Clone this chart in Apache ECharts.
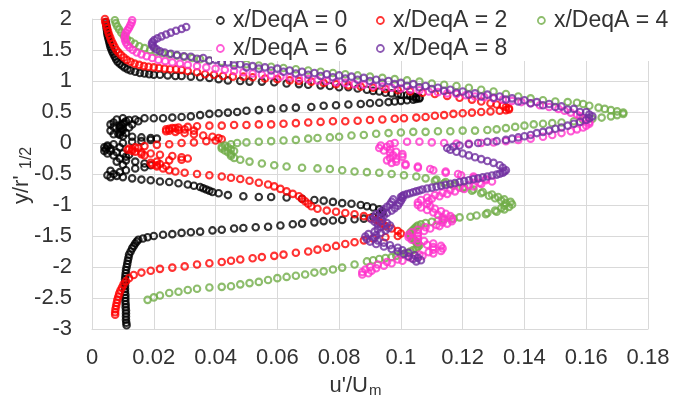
<!DOCTYPE html>
<html>
<head>
<meta charset="utf-8">
<script src="https://cdn.jsdelivr.net/npm/echarts@6/dist/echarts.min.js"></script>
<style>
html, body { margin: 0; padding: 0; background: #fff; }
#main { width: 677px; height: 396px; }
</style>
</head>
<body>
<div id="main"></div>
<script>
var FONT = "'Liberation Sans', Arial, sans-serif";

var seriesNames = ['x/DeqA = 0', 'x/DeqA = 2', 'x/DeqA = 4', 'x/DeqA = 6', 'x/DeqA = 8'];
var seriesColors = ['#000000', '#FF0000', '#70AD47', '#FF33CC', '#7030A0'];

// [u'/Um, y/r'1/2], top to bottom
var prof0 = [
	[0.0045,1.95],[0.0046,1.91],[0.0047,1.87],[0.0048,1.83],[0.0049,1.79],[0.005,1.75],[0.0052,1.71],[0.0054,1.67],[0.0056,1.63],[0.0058,1.59],
	[0.006,1.55],[0.0063,1.51],[0.0066,1.47],[0.007,1.43],[0.0074,1.39],[0.0078,1.35],[0.0083,1.31],[0.009,1.28],[0.0097,1.25],[0.0105,1.22],
	[0.0115,1.19],[0.0125,1.17],[0.014,1.15],[0.0155,1.13],[0.017,1.12],[0.0185,1.11],[0.02,1.1],[0.022,1.1],[0.0245,1.09],[0.027,1.08],
	[0.029,1.08],[0.032,1.07],[0.035,1.06],[0.038,1.05],[0.041,1.03],[0.044,1.01],[0.048,1.0],[0.051,0.99],[0.055,0.99],[0.059,0.98],
	[0.063,0.96],[0.067,0.95],[0.07,0.94],[0.074,0.93],[0.077,0.92],[0.08,0.9],[0.083,0.9],[0.086,0.88],[0.089,0.86],[0.091,0.84],
	[0.093,0.83],[0.095,0.81],[0.097,0.8],[0.099,0.79],[0.1,0.78],[0.102,0.77],[0.103,0.76],[0.104,0.75],[0.105,0.74],[0.106,0.73],
	[0.106,0.72],[0.105,0.71],[0.104,0.7],[0.102,0.69],[0.1,0.68],[0.098,0.67],[0.096,0.66],[0.093,0.65],[0.09,0.64],[0.087,0.63],
	[0.083,0.62],[0.079,0.61],[0.075,0.6],[0.071,0.58],[0.066,0.57],[0.062,0.56],[0.058,0.55],[0.054,0.53],[0.05,0.52],[0.047,0.5],
	[0.044,0.49],[0.041,0.48],[0.038,0.47],[0.035,0.45],[0.032,0.43],[0.029,0.42],[0.026,0.41],[0.023,0.4],[0.02,0.4],[0.017,0.4],
	[0.014,0.38],[0.012,0.37],[0.01,0.4],[0.008,0.38],[0.015,0.35],[0.011,0.35],[0.0105,0.33],[0.007,0.33],[0.013,0.3],[0.01,0.31],
	[0.006,0.3],[0.0095,0.29],[0.009,0.27],[0.007,0.26],[0.012,0.25],[0.009,0.25],[0.0095,0.23],[0.01,0.21],[0.006,0.2],[0.0095,0.19],
	[0.009,0.17],[0.011,0.16],[0.0085,0.15],[0.007,0.14],[0.009,0.13],[0.01,0.11],[0.013,0.1],[0.016,0.09],[0.019,0.08],[0.021,0.07],
	[0.019,0.05],[0.016,0.03],[0.013,0.02],[0.01,0.0],[0.007,-0.02],[0.005,-0.04],[0.005,-0.06],[0.004,-0.07],[0.009,-0.07],[0.006,-0.09],
	[0.0045,-0.1],[0.006,-0.13],[0.004,-0.13],[0.008,-0.15],[0.005,-0.17],[0.01,-0.17],[0.012,-0.19],[0.007,-0.2],[0.011,-0.22],[0.009,-0.25],
	[0.011,-0.28],[0.008,-0.3],[0.014,-0.3],[0.017,-0.33],[0.01,-0.35],[0.019,-0.36],[0.017,-0.39],[0.014,-0.41],[0.011,-0.44],[0.006,-0.45],
	[0.009,-0.47],[0.007,-0.5],[0.005,-0.52],[0.008,-0.53],[0.006,-0.55],[0.01,-0.55],[0.013,-0.57],[0.016,-0.59],[0.019,-0.6],[0.022,-0.62],
	[0.025,-0.63],[0.028,-0.65],[0.031,-0.67],[0.033,-0.69],[0.035,-0.71],[0.036,-0.73],[0.037,-0.75],[0.038,-0.77],[0.039,-0.79],[0.041,-0.81],
	[0.044,-0.84],[0.049,-0.86],[0.054,-0.87],[0.058,-0.87],[0.063,-0.88],[0.068,-0.9],[0.072,-0.92],[0.075,-0.93],[0.078,-0.95],[0.081,-0.97],
	[0.084,-0.98],[0.087,-1.0],[0.089,-1.02],[0.091,-1.04],[0.093,-1.07],[0.094,-1.1],[0.094,-1.13],[0.093,-1.16],[0.091,-1.19],[0.088,-1.22],
	[0.085,-1.23],[0.081,-1.24],[0.078,-1.25],[0.075,-1.26],[0.072,-1.28],[0.068,-1.3],[0.065,-1.31],[0.061,-1.33],[0.057,-1.35],[0.053,-1.36],
	[0.049,-1.37],[0.046,-1.38],[0.042,-1.4],[0.039,-1.41],[0.035,-1.43],[0.032,-1.44],[0.029,-1.45],[0.026,-1.47],[0.023,-1.48],[0.02,-1.5],
	[0.018,-1.52],[0.0165,-1.54],[0.015,-1.56],[0.0145,-1.59],[0.014,-1.62],[0.0135,-1.66],[0.013,-1.7],[0.0125,-1.75],[0.012,-1.8],[0.0118,-1.85],
	[0.0116,-1.9],[0.0114,-1.95],[0.0112,-2.0],[0.011,-2.05],[0.0109,-2.1],[0.0108,-2.15],[0.0107,-2.2],[0.0107,-2.25],[0.0107,-2.3],[0.0107,-2.35],
	[0.0107,-2.4],[0.0108,-2.45],[0.0108,-2.5],[0.0108,-2.55],[0.0109,-2.6],[0.0109,-2.65],[0.011,-2.7],[0.011,-2.75],[0.011,-2.8],[0.011,-2.85],
	[0.0111,-2.9],[0.0112,-2.94]
];

var prof2 = [
	[0.0042,2.0],[0.0043,1.95],[0.0046,1.9],[0.0049,1.85],[0.0052,1.8],[0.0055,1.75],[0.0059,1.7],[0.0063,1.65],[0.0068,1.6],[0.0073,1.55],
	[0.0079,1.5],[0.0086,1.46],[0.0094,1.42],[0.0103,1.38],[0.0113,1.34],[0.0125,1.31],[0.0138,1.28],[0.0153,1.26],[0.0168,1.24],[0.0183,1.23],
	[0.02,1.22],[0.0217,1.21],[0.0235,1.2],[0.0253,1.19],[0.0272,1.19],[0.029,1.18],[0.031,1.16],[0.034,1.14],[0.0366,1.11],[0.0395,1.1],
	[0.0424,1.08],[0.0456,1.07],[0.049,1.07],[0.052,1.06],[0.056,1.04],[0.06,1.03],[0.064,1.01],[0.067,1.0],[0.071,0.99],[0.075,0.97],
	[0.079,0.95],[0.083,0.93],[0.087,0.91],[0.091,0.89],[0.095,0.87],[0.099,0.85],[0.103,0.83],[0.107,0.81],[0.111,0.79],[0.115,0.76],
	[0.119,0.73],[0.123,0.7],[0.126,0.67],[0.129,0.64],[0.131,0.62],[0.133,0.6],[0.134,0.58],[0.135,0.56],[0.135,0.54],[0.134,0.53],
	[0.132,0.52],[0.129,0.51],[0.126,0.5],[0.123,0.49],[0.12,0.48],[0.117,0.47],[0.114,0.45],[0.111,0.44],[0.108,0.42],[0.105,0.41],
	[0.101,0.4],[0.098,0.39],[0.094,0.38],[0.09,0.37],[0.086,0.36],[0.082,0.35],[0.078,0.35],[0.074,0.34],[0.07,0.33],[0.066,0.32],
	[0.062,0.31],[0.058,0.3],[0.054,0.3],[0.05,0.29],[0.046,0.29],[0.042,0.28],[0.038,0.28],[0.034,0.27],[0.031,0.26],[0.028,0.25],
	[0.027,0.24],[0.026,0.24],[0.025,0.23],[0.03,0.22],[0.024,0.22],[0.028,0.21],[0.033,0.2],[0.025,0.2],[0.024,0.19],[0.027,0.18],
	[0.03,0.16],[0.033,0.14],[0.036,0.12],[0.039,0.1],[0.041,0.08],[0.042,0.06],[0.04,0.04],[0.037,0.03],[0.033,0.01],[0.029,0.0],
	[0.025,-0.02],[0.021,-0.03],[0.017,-0.05],[0.014,-0.07],[0.015,-0.08],[0.012,-0.09],[0.013,-0.1],[0.0115,-0.11],[0.013,-0.13],[0.014,-0.14],
	[0.016,-0.15],[0.019,-0.17],[0.016,-0.18],[0.022,-0.19],[0.017,-0.2],[0.026,-0.21],[0.029,-0.23],[0.031,-0.25],[0.029,-0.27],[0.025,-0.28],
	[0.021,-0.3],[0.019,-0.32],[0.022,-0.34],[0.0195,-0.35],[0.021,-0.36],[0.024,-0.37],[0.021,-0.38],[0.023,-0.41],[0.025,-0.44],[0.027,-0.46],
	[0.03,-0.48],[0.034,-0.5],[0.038,-0.52],[0.042,-0.54],[0.045,-0.56],[0.048,-0.58],[0.051,-0.61],[0.054,-0.64],[0.057,-0.67],[0.059,-0.7],
	[0.061,-0.74],[0.063,-0.78],[0.065,-0.82],[0.067,-0.86],[0.068,-0.9],[0.069,-0.94],[0.07,-0.98],[0.071,-1.02],[0.073,-1.06],[0.076,-1.09],
	[0.079,-1.11],[0.082,-1.13],[0.085,-1.15],[0.088,-1.18],[0.09,-1.21],[0.092,-1.24],[0.093,-1.27],[0.094,-1.3],[0.095,-1.34],[0.097,-1.38],
	[0.099,-1.42],[0.1,-1.46],[0.099,-1.5],[0.095,-1.52],[0.091,-1.54],[0.088,-1.57],[0.085,-1.6],[0.082,-1.63],[0.079,-1.66],[0.076,-1.69],
	[0.073,-1.72],[0.07,-1.75],[0.066,-1.77],[0.062,-1.8],[0.059,-1.82],[0.055,-1.84],[0.052,-1.86],[0.048,-1.88],[0.045,-1.9],[0.042,-1.92],
	[0.038,-1.94],[0.034,-1.96],[0.03,-1.99],[0.026,-2.01],[0.022,-2.03],[0.019,-2.06],[0.016,-2.09],[0.0135,-2.13],[0.012,-2.18],[0.011,-2.23],
	[0.0102,-2.28],[0.0097,-2.33],[0.0092,-2.38],[0.0088,-2.43],[0.0085,-2.48],[0.0082,-2.53],[0.008,-2.58],[0.0078,-2.63],[0.0076,-2.68],[0.0075,-2.73],
	[0.0075,-2.77]
];

var prof4 = [
	[0.0074,1.98],[0.0077,1.93],[0.0082,1.88],[0.0088,1.83],[0.0095,1.78],[0.0103,1.73],[0.0113,1.68],[0.0125,1.64],[0.0138,1.6],[0.0153,1.56],
	[0.017,1.53],[0.0188,1.5],[0.0207,1.47],[0.0228,1.45],[0.025,1.43],[0.0275,1.41],[0.03,1.39],[0.0325,1.37],[0.035,1.35],[0.038,1.33],
	[0.042,1.31],[0.046,1.29],[0.05,1.27],[0.054,1.25],[0.058,1.23],[0.062,1.21],[0.066,1.19],[0.07,1.17],[0.074,1.15],[0.078,1.13],
	[0.082,1.11],[0.086,1.09],[0.09,1.07],[0.094,1.05],[0.098,1.03],[0.102,1.01],[0.106,0.99],[0.11,0.96],[0.114,0.94],[0.118,0.92],
	[0.122,0.89],[0.126,0.86],[0.13,0.83],[0.134,0.79],[0.138,0.75],[0.142,0.72],[0.146,0.69],[0.15,0.67],[0.154,0.66],[0.157,0.65],
	[0.159,0.63],[0.161,0.6],[0.164,0.57],[0.166,0.55],[0.168,0.53],[0.17,0.51],[0.172,0.49],[0.172,0.47],[0.17,0.45],[0.168,0.43],
	[0.165,0.41],[0.162,0.39],[0.159,0.37],[0.156,0.35],[0.152,0.33],[0.149,0.32],[0.146,0.31],[0.143,0.3],[0.14,0.28],[0.137,0.26],
	[0.134,0.24],[0.131,0.22],[0.128,0.21],[0.124,0.2],[0.12,0.2],[0.116,0.19],[0.112,0.19],[0.108,0.18],[0.104,0.18],[0.1,0.17],
	[0.096,0.16],[0.092,0.15],[0.088,0.13],[0.084,0.12],[0.08,0.1],[0.077,0.09],[0.073,0.08],[0.07,0.07],[0.066,0.05],[0.062,0.04],
	[0.058,0.03],[0.054,0.02],[0.05,0.01],[0.047,0.0],[0.045,-0.02],[0.043,-0.04],[0.042,-0.06],[0.044,-0.07],[0.042,-0.09],[0.045,-0.1],
	[0.043,-0.12],[0.046,-0.13],[0.044,-0.15],[0.045,-0.18],[0.045,-0.21],[0.046,-0.24],[0.048,-0.27],[0.051,-0.3],[0.055,-0.33],[0.059,-0.36],
	[0.063,-0.38],[0.068,-0.4],[0.073,-0.41],[0.077,-0.42],[0.081,-0.44],[0.085,-0.46],[0.089,-0.47],[0.093,-0.48],[0.097,-0.5],[0.101,-0.52],
	[0.105,-0.54],[0.108,-0.57],[0.1115,-0.59],[0.111,-0.61],[0.1145,-0.63],[0.114,-0.65],[0.1175,-0.67],[0.117,-0.69],[0.1205,-0.71],[0.12,-0.73],
	[0.1235,-0.75],[0.123,-0.77],[0.1265,-0.79],[0.126,-0.81],[0.1295,-0.83],[0.1285,-0.85],[0.1315,-0.87],[0.1305,-0.89],[0.1335,-0.91],[0.1325,-0.93],
	[0.1355,-0.95],[0.134,-0.97],[0.136,-0.99],[0.1335,-1.01],[0.135,-1.03],[0.1325,-1.05],[0.1335,-1.07],[0.1305,-1.09],[0.131,-1.11],[0.128,-1.13],
	[0.1275,-1.15],[0.1245,-1.17],[0.1225,-1.19],[0.119,-1.2],[0.117,-1.22],[0.114,-1.23],[0.112,-1.25],[0.11,-1.27],[0.108,-1.29],[0.1065,-1.31],
	[0.1055,-1.33],[0.105,-1.35],[0.1045,-1.375],[0.104,-1.4],[0.1035,-1.425],[0.103,-1.45],[0.103,-1.475],[0.103,-1.5],[0.1035,-1.525],[0.104,-1.55],
	[0.1045,-1.575],[0.105,-1.6],[0.1055,-1.625],[0.106,-1.65],[0.1055,-1.675],[0.105,-1.7],[0.104,-1.725],[0.103,-1.75],[0.1015,-1.775],[0.1,-1.8],
	[0.0985,-1.82],[0.097,-1.84],[0.095,-1.855],[0.093,-1.87],[0.091,-1.89],[0.089,-1.91],[0.085,-1.96],[0.081,-2.01],[0.078,-2.04],[0.075,-2.07],
	[0.072,-2.09],[0.069,-2.12],[0.066,-2.14],[0.063,-2.16],[0.06,-2.18],[0.057,-2.21],[0.054,-2.24],[0.051,-2.26],[0.048,-2.28],[0.045,-2.31],
	[0.042,-2.32],[0.038,-2.33],[0.034,-2.35],[0.031,-2.37],[0.028,-2.4],[0.025,-2.42],[0.022,-2.46],[0.02,-2.49],[0.018,-2.53]
];

var prof6 = [
	[0.013,1.98],[0.0128,1.94],[0.0124,1.9],[0.012,1.86],[0.0115,1.82],[0.011,1.78],[0.0107,1.74],[0.0106,1.7],[0.0107,1.66],[0.011,1.62],
	[0.0115,1.58],[0.0122,1.54],[0.0132,1.5],[0.0145,1.46],[0.016,1.43],[0.0177,1.4],[0.0195,1.37],[0.0215,1.34],[0.0237,1.32],[0.026,1.3],
	[0.0285,1.28],[0.031,1.26],[0.034,1.24],[0.037,1.22],[0.04,1.2],[0.043,1.18],[0.046,1.16],[0.049,1.14],[0.052,1.12],[0.055,1.1],
	[0.058,1.09],[0.061,1.07],[0.064,1.06],[0.067,1.04],[0.07,1.03],[0.073,1.01],[0.076,1.0],[0.079,0.98],[0.082,0.97],[0.085,0.95],
	[0.088,0.94],[0.091,0.92],[0.094,0.91],[0.097,0.89],[0.1,0.88],[0.103,0.86],[0.106,0.85],[0.109,0.83],[0.112,0.82],[0.115,0.8],
	[0.118,0.79],[0.121,0.77],[0.124,0.75],[0.127,0.74],[0.13,0.72],[0.133,0.7],[0.136,0.68],[0.139,0.66],[0.142,0.64],[0.145,0.61],
	[0.148,0.58],[0.151,0.55],[0.153,0.52],[0.155,0.49],[0.157,0.46],[0.158,0.43],[0.159,0.4],[0.16,0.37],[0.161,0.34],[0.161,0.31],
	[0.16,0.28],[0.159,0.25],[0.157,0.22],[0.155,0.19],[0.152,0.16],[0.149,0.13],[0.146,0.1],[0.142,0.07],[0.138,0.05],[0.134,0.03],
	[0.13,0.01],[0.126,0.0],[0.122,-0.01],[0.118,-0.01],[0.114,0.0],[0.11,0.01],[0.106,0.02],[0.102,0.02],[0.098,0.0],
	[0.0965,-0.02],[0.0935,-0.04],[0.0955,-0.06],[0.093,-0.08],[0.0965,-0.1],[0.0945,-0.12],[0.0985,-0.14],[0.0965,-0.16],[0.1005,-0.18],[0.0975,-0.2],
	[0.1005,-0.22],[0.0965,-0.24],[0.0985,-0.26],[0.0955,-0.28],[0.0985,-0.3],[0.097,-0.32],[0.1015,-0.34],[0.1015,-0.36],[0.1055,-0.38],[0.1055,-0.4],
	[0.1095,-0.42],[0.1105,-0.44],[0.1145,-0.46],[0.1145,-0.48],[0.1185,-0.5],[0.1195,-0.52],[0.1235,-0.54],[0.1235,-0.56],[0.1275,-0.58],[0.1275,-0.6],
	[0.1295,-0.62],[0.1255,-0.64],[0.126,-0.66],[0.122,-0.68],[0.1235,-0.7],[0.119,-0.72],[0.1205,-0.74],[0.116,-0.76],[0.1175,-0.78],[0.1135,-0.8],
	[0.115,-0.82],[0.111,-0.84],[0.1125,-0.86],[0.1085,-0.88],[0.11,-0.9],[0.1065,-0.92],[0.109,-0.94],[0.1055,-0.96],[0.1085,-0.98],[0.1055,-1.0],
	[0.1095,-1.02],[0.1065,-1.04],[0.111,-1.06],[0.1085,-1.08],[0.113,-1.1],[0.1105,-1.12],[0.1145,-1.14],[0.112,-1.16],[0.116,-1.18],[0.1135,-1.2],
	[0.1165,-1.22],[0.1135,-1.24],[0.1165,-1.26],[0.1135,-1.28],[0.115,-1.3],[0.1115,-1.32],[0.1125,-1.34],[0.108,-1.36],[0.1095,-1.38],[0.1055,-1.4],
	[0.1075,-1.42],[0.1035,-1.44],[0.1055,-1.46],[0.1025,-1.48],[0.1055,-1.5],[0.1025,-1.52],[0.1055,-1.54],[0.1035,-1.56],[0.1075,-1.58],[0.1055,-1.6],
	[0.1105,-1.62],[0.1085,-1.64],[0.113,-1.66],[0.1105,-1.68],[0.1135,-1.7],[0.1105,-1.72],[0.113,-1.74],[0.109,-1.76],[0.1105,-1.78],[0.106,-1.8],
	[0.107,-1.82],[0.1025,-1.84],[0.1035,-1.86],[0.099,-1.88],[0.1005,-1.9],[0.0955,-1.92],[0.097,-1.94],[0.0925,-1.96],[0.0945,-1.98],[0.09,-2.0],
	[0.092,-2.02],[0.0885,-2.04],[0.0905,-2.06],[0.0875,-2.08],[0.0895,-2.1],[0.0875,-2.12]
];

var prof8 = [
	[0.0305,1.87],[0.029,1.84],[0.0272,1.81],[0.0255,1.78],[0.024,1.75],[0.0225,1.72],[0.0212,1.69],[0.0202,1.66],[0.0196,1.63],[0.0194,1.6],
	[0.0196,1.57],[0.0201,1.54],[0.0209,1.51],[0.022,1.48],[0.0235,1.46],[0.0255,1.44],[0.0275,1.42],[0.0297,1.4],[0.032,1.39],[0.034,1.36],
	[0.036,1.37],[0.038,1.33],[0.04,1.34],[0.042,1.29],[0.044,1.3],[0.046,1.25],[0.048,1.27],[0.05,1.22],[0.052,1.24],[0.054,1.2],
	[0.056,1.22],[0.058,1.17],[0.06,1.2],[0.062,1.15],[0.064,1.17],[0.066,1.12],[0.068,1.15],[0.07,1.1],[0.072,1.13],[0.074,1.08],
	[0.076,1.11],[0.078,1.06],[0.08,1.09],[0.082,1.04],[0.084,1.07],[0.086,1.02],[0.088,1.05],[0.09,1.0],[0.092,1.02],[0.094,0.97],
	[0.096,1.0],[0.098,0.95],[0.1,0.97],[0.102,0.92],[0.104,0.95],[0.106,0.9],[0.108,0.92],[0.11,0.87],[0.112,0.89],[0.114,0.84],
	[0.116,0.86],[0.118,0.81],[0.12,0.83],[0.122,0.78],[0.124,0.8],[0.126,0.75],[0.128,0.78],[0.13,0.73],[0.132,0.75],[0.134,0.7],
	[0.136,0.72],[0.138,0.67],[0.14,0.69],[0.142,0.64],[0.144,0.66],[0.146,0.61],[0.148,0.63],[0.15,0.58],[0.152,0.59],[0.154,0.54],
	[0.156,0.55],[0.158,0.5],[0.16,0.5],[0.161,0.46],[0.162,0.43],[0.161,0.4],[0.16,0.37],[0.158,0.34],[0.156,0.31],[0.154,0.28],
	[0.152,0.25],[0.15,0.23],[0.148,0.2],[0.146,0.18],[0.144,0.16],[0.142,0.13],[0.14,0.11],[0.138,0.09],[0.136,0.07],[0.134,0.05],
	[0.131,0.03],[0.128,0.02],[0.125,0.0],[0.122,-0.02],[0.119,-0.04],[0.117,-0.06],[0.115,-0.08],[0.116,-0.11],[0.118,-0.14],[0.12,-0.17],
	[0.122,-0.2],[0.124,-0.23],[0.126,-0.26],[0.128,-0.29],[0.13,-0.32],[0.132,-0.36],[0.133,-0.4],[0.134,-0.44],[0.1335,-0.46],[0.133,-0.48],
	[0.132,-0.495],[0.131,-0.51],[0.1295,-0.525],[0.128,-0.54],[0.1265,-0.555],[0.125,-0.57],[0.1235,-0.585],[0.122,-0.6],[0.1205,-0.615],[0.119,-0.63],
	[0.1175,-0.645],[0.116,-0.66],[0.1145,-0.675],[0.113,-0.69],[0.1115,-0.705],[0.11,-0.72],[0.1085,-0.735],[0.107,-0.75],[0.106,-0.765],[0.105,-0.78],
	[0.104,-0.795],[0.103,-0.81],[0.102,-0.825],[0.101,-0.84],[0.1005,-0.855],[0.1,-0.87],[0.1005,-0.89],[0.0975,-0.91],[0.1,-0.93],[0.097,-0.95],
	[0.0995,-0.97],[0.0965,-0.99],[0.099,-1.01],[0.0955,-1.03],[0.098,-1.05],[0.0945,-1.07],[0.097,-1.09],[0.0935,-1.11],[0.0955,-1.13],[0.092,-1.15],
	[0.0945,-1.17],[0.0915,-1.19],[0.0935,-1.21],[0.0905,-1.23],[0.094,-1.25],[0.0915,-1.27],[0.0955,-1.29],[0.0925,-1.31],[0.0965,-1.33],[0.0935,-1.35],
	[0.096,-1.37],[0.0925,-1.39],[0.095,-1.41],[0.0915,-1.43],[0.0935,-1.45],[0.0895,-1.47],[0.092,-1.49],[0.0885,-1.51],[0.0915,-1.53],[0.089,-1.55],
	[0.0925,-1.57],[0.09,-1.59],[0.0945,-1.61],[0.092,-1.63],[0.0965,-1.65],[0.0945,-1.67],[0.099,-1.69],[0.097,-1.71],[0.1005,-1.73],[0.099,-1.75],
	[0.1025,-1.77],[0.101,-1.79],[0.1045,-1.81],[0.1025,-1.83],[0.1055,-1.85],[0.104,-1.87],[0.1065,-1.89],[0.105,-1.91]
];

var profiles = [prof0, prof2, prof4, prof6, prof8];

// legend item boxes (left, top), two rows like the original
var legendPos = [[216, 9], [376, 9], [537, 9], [216, 37], [376, 37]];

var myChart = echarts.init(document.getElementById('main'));

var option = {
	animation: false,
	textStyle: {fontFamily: FONT},
	grid: {left: 92, right: 29, top: 19, bottom: 67},
	xAxis: {
		type: 'value',
		min: 0,
		max: 0.18,
		interval: 0.02,
		axisLine: {onZero: false, lineStyle: {color: '#d9d9d9'}},
		axisTick: {show: false},
		splitLine: {lineStyle: {color: '#d9d9d9'}},
		axisLabel: {margin: 18, fontSize: 22, color: '#333', fontFamily: FONT}
	},
	yAxis: {
		type: 'value',
		min: -3,
		max: 2,
		interval: 0.5,
		axisLine: {show: true, onZero: false, lineStyle: {color: '#d9d9d9'}},
		axisTick: {show: false},
		splitLine: {lineStyle: {color: '#d9d9d9'}},
		axisLabel: {margin: 20, fontSize: 22, color: '#333', fontFamily: FONT}
	},
	legend: legendPos.map(function (p, i) {
		return {
			data: [seriesNames[i]],
			left: p[0],
			top: p[1],
			padding: 0,
			itemWidth: 15,
			itemHeight: 7,
			icon: 'circle',
			selectedMode: false,
			itemStyle: {color: 'rgba(0,0,0,0)', borderColor: seriesColors[i], borderWidth: 1.8},
			textStyle: {fontSize: 23, color: '#333', fontFamily: FONT}
		};
	}),
	graphic: [
		{type: 'rect', z: 3, shape: {x: 212, y: 0, width: 465, height: 61}, style: {fill: '#fff'}},
		{type: 'text', x: 368, y: 386, style: {text: "u'/U", fontSize: 22, fontFamily: FONT, fill: '#333', align: 'right', verticalAlign: 'middle'}},
		{type: 'text', x: 369, y: 391, style: {text: 'm', fontSize: 15, fontFamily: FONT, fill: '#333', align: 'left', verticalAlign: 'middle'}},
		{type: 'text', x: 22, y: 204, rotation: Math.PI / 2, style: {text: "y/r'", fontSize: 22, fontFamily: FONT, fill: '#333', align: 'left', verticalAlign: 'middle'}},
		{type: 'text', x: 27, y: 169, rotation: Math.PI / 2, style: {text: '1/2', fontSize: 16, fontFamily: FONT, fill: '#333', align: 'left', verticalAlign: 'middle'}}
	],
	series: profiles.map(function (d, i) {
		return {
			name: seriesNames[i],
			type: 'scatter',
			symbol: 'circle',
			symbolSize: 6.5,
			silent: true,
			itemStyle: {color: 'rgba(0,0,0,0)', borderColor: seriesColors[i], borderWidth: 2.1},
			emphasis: {disabled: true},
			data: d
		};
	})
};

myChart.setOption(option);
</script>
</body>
</html>
